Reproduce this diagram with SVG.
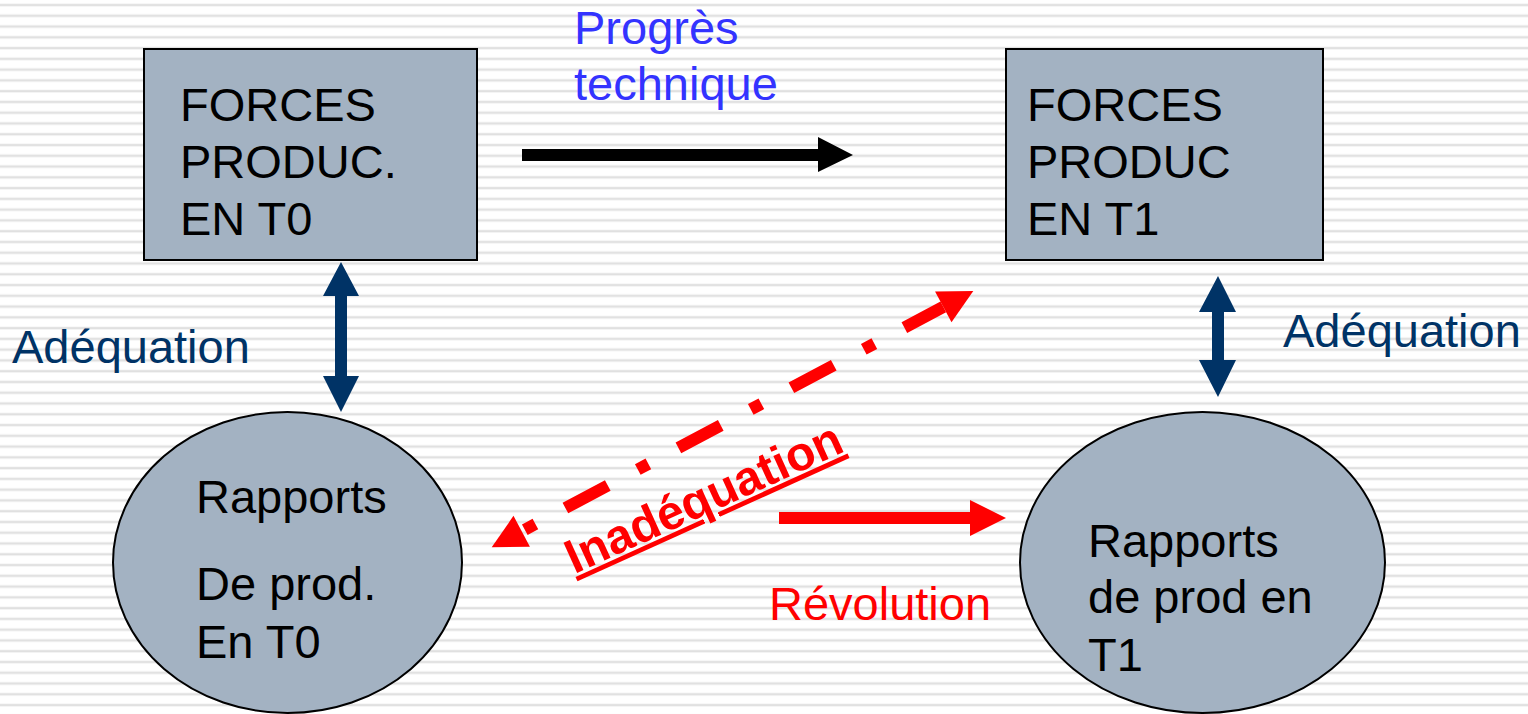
<svg xmlns="http://www.w3.org/2000/svg" width="1528" height="714" viewBox="0 0 1528 714">
  <defs>
    <pattern id="stripes" patternUnits="userSpaceOnUse" x="0" y="0" width="40" height="10.77">
      <rect x="0" y="3.6" width="40" height="2.8" fill="#ebebeb"/>
      <rect x="0" y="4.3" width="40" height="1.4" fill="#dedede"/>
    </pattern>
    <style>
      .node { fill: #A3B2C2; stroke: #000000; stroke-width: 2; }
      .t { font-family: "Liberation Sans", Arial, sans-serif; font-size: 47px; }
      .black { fill: #000000; }
      .blue { fill: #3333FF; }
      .navy { fill: #003366; }
      .red { fill: #FF0000; }
      .inad { font-family: "Liberation Sans", Arial, sans-serif; font-size: 48px; font-weight: bold; fill: #FF0000; text-decoration: underline; }
      .dash { stroke: #FF0000; stroke-width: 12; fill: none; stroke-dasharray: 12 34 48 34; stroke-linecap: butt; }
    </style>
  </defs>

  <rect x="0" y="0" width="1528" height="714" fill="#ffffff"/>
  <rect x="0" y="0" width="1528" height="714" fill="url(#stripes)"/>

  <g id="node-forces-t0">
    <rect class="node" x="144" y="49" width="333" height="211"/>
    <text class="t black" x="180" y="121">FORCES</text>
    <text class="t black" x="180" y="178">PRODUC.</text>
    <text class="t black" x="180" y="235">EN T0</text>
  </g>

  <g id="node-forces-t1">
    <rect class="node" x="1006" y="49" width="317" height="211"/>
    <text class="t black" x="1027" y="121">FORCES</text>
    <text class="t black" x="1027" y="178">PRODUC</text>
    <text class="t black" x="1027" y="235">EN T1</text>
  </g>

  <g id="node-rapports-t0">
    <ellipse class="node" cx="287.5" cy="562.5" rx="174.5" ry="150.5"/>
    <text class="t black" x="196" y="513">Rapports</text>
    <text class="t black" x="196" y="600">De prod.</text>
    <text class="t black" x="196" y="658">En T0</text>
  </g>

  <g id="node-rapports-t1">
    <ellipse class="node" cx="1202.5" cy="562.5" rx="182.5" ry="150.5"/>
    <text class="t black" x="1088" y="557">Rapports</text>
    <text class="t black" x="1088" y="613">de prod en</text>
    <text class="t black" x="1088" y="671">T1</text>
  </g>

  <g id="connectors">
    <!-- Progrès technique arrow -->
    <polygon class="black" points="522,149 818,149 818,137 853,155 818,172 818,161 522,161"/>
    <!-- Révolution arrow -->
    <polygon class="red" points="779,512 970,512 970,500 1006,518 970,536 970,524 779,524"/>
    <!-- Adéquation left double arrow -->
    <polygon class="navy" points="341,262 359,296 347,296 347,376 359,376 341,412 323,376 335,376 335,296 323,296"/>
    <!-- Adéquation right double arrow -->
    <polygon class="navy" points="1218,276 1236,312 1224,312 1224,360 1236,360 1218,397 1199,360 1212,360 1212,312 1199,312"/>
    <!-- Inadéquation dashed double arrow -->
    <g transform="translate(491.7,547.3) rotate(-28.03)">
      <line class="dash" x1="37.5" y1="0" x2="511.6" y2="0"/>
      <polygon class="red" points="0,0 34,-17.5 34,17.5"/>
      <polygon class="red" points="545.6,0 511.6,-17.5 511.6,17.5"/>
    </g>
  </g>

  <g id="labels">
    <text class="t blue" x="574" y="44">Progrès</text>
    <text class="t blue" x="574" y="100">technique</text>
    <text class="t navy" x="12" y="363">Adéquation</text>
    <text class="t navy" x="1283" y="347">Adéquation</text>
    <text class="t red" x="769" y="620">Révolution</text>
    <text class="inad" transform="translate(577,573) rotate(-24.4)" x="-3" y="0">Inadéquation</text>
  </g>
</svg>
